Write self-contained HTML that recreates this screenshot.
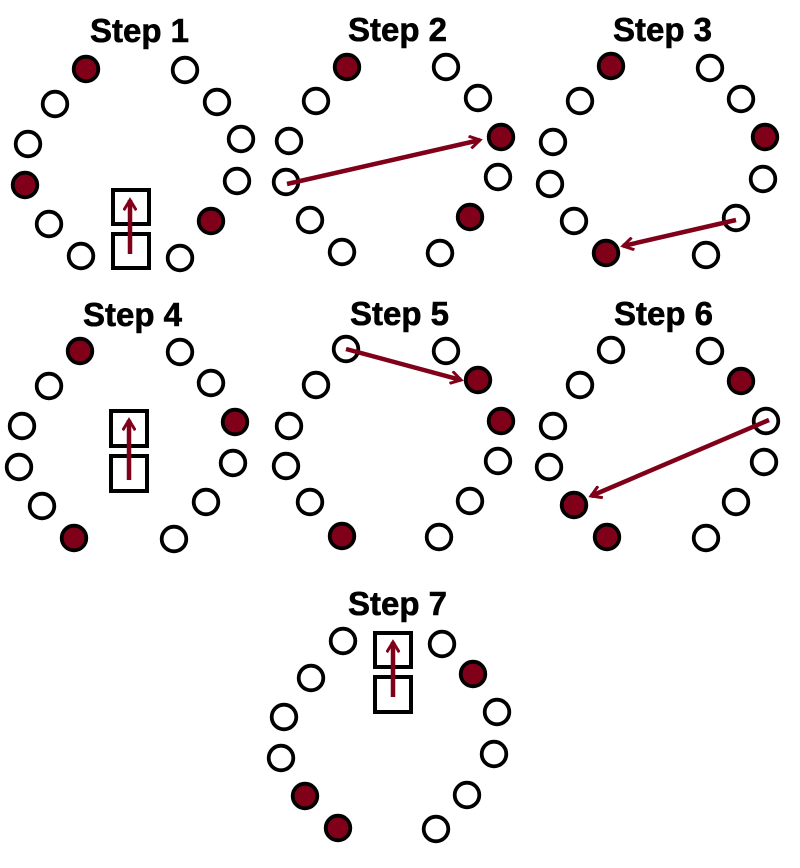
<!DOCTYPE html>
<html><head><meta charset="utf-8"><style>html,body{margin:0;padding:0;background:#fff}svg{display:block}</style></head>
<body>
<svg width="800" height="868" xmlns="http://www.w3.org/2000/svg">
<defs>
<marker id="a" viewBox="0 0 14 14" refX="11" refY="7" markerWidth="14" markerHeight="14" markerUnits="userSpaceOnUse" orient="auto">
<path d="M2,1.5 L11,7 L2,12.5" fill="none" stroke="#80001a" stroke-width="3" stroke-linecap="square"/>
</marker>
<style>
.o{fill:#fff;stroke:#000;stroke-width:3.8}
.f{fill:#80001a;stroke:#000;stroke-width:3.8}
.b{fill:none;stroke:#000;stroke-width:4}
.l{stroke:#80001a;stroke-width:4.5;fill:none;marker-end:url(#a)}
text{font-family:"Liberation Sans Narrow","Liberation Sans",sans-serif;font-weight:bold;font-size:33px;fill:#000;stroke:#000;stroke-width:0.6}
</style>
</defs>
<g>
<text x="90" y="42" textLength="99" lengthAdjust="spacingAndGlyphs">Step 1</text>
<text x="348" y="41" textLength="99" lengthAdjust="spacingAndGlyphs">Step 2</text>
<text x="613" y="41" textLength="99" lengthAdjust="spacingAndGlyphs">Step 3</text>
<text x="83" y="326" textLength="99" lengthAdjust="spacingAndGlyphs">Step 4</text>
<text x="350" y="325" textLength="99" lengthAdjust="spacingAndGlyphs">Step 5</text>
<text x="614" y="325" textLength="99" lengthAdjust="spacingAndGlyphs">Step 6</text>
<text x="348" y="615" textLength="99" lengthAdjust="spacingAndGlyphs">Step 7</text>
</g>
<!-- Step1 -->
<circle class="f" cx="86" cy="69" r="12.3"/><circle class="o" cx="185" cy="70" r="12.3"/>
<circle class="o" cx="55" cy="104" r="12.3"/><circle class="o" cx="217" cy="102" r="12.3"/>
<circle class="o" cx="28" cy="144" r="12.3"/><circle class="o" cx="241" cy="139" r="12.3"/>
<circle class="f" cx="25" cy="185" r="12.3"/><circle class="o" cx="237" cy="181" r="12.3"/>
<circle class="o" cx="49" cy="224" r="12.3"/><circle class="f" cx="211" cy="221" r="12.3"/>
<circle class="o" cx="81" cy="256" r="12.3"/><circle class="o" cx="180" cy="258" r="12.3"/>
<rect class="b" x="113" y="190" width="36" height="34"/><rect class="b" x="113" y="234" width="36" height="34"/>
<line class="l" x1="130" y1="254" x2="130" y2="200"/>
<!-- Step2 -->
<circle class="f" cx="347" cy="67" r="12.3"/><circle class="o" cx="446" cy="67" r="12.3"/>
<circle class="o" cx="316" cy="101" r="12.3"/><circle class="o" cx="478" cy="98" r="12.3"/>
<circle class="o" cx="289" cy="141" r="12.3"/><circle class="f" cx="501" cy="137" r="12.3"/>
<circle class="o" cx="286" cy="182" r="12.3"/><circle class="o" cx="498" cy="177" r="12.3"/>
<circle class="o" cx="310" cy="220" r="12.3"/><circle class="f" cx="470" cy="217" r="12.3"/>
<circle class="o" cx="342" cy="252" r="12.3"/><circle class="o" cx="440" cy="253" r="12.3"/>
<line class="l" x1="287" y1="184" x2="480" y2="140"/>
<!-- Step3 -->
<circle class="f" cx="611" cy="66" r="12.3"/><circle class="o" cx="710" cy="68" r="12.3"/>
<circle class="o" cx="580" cy="101" r="12.3"/><circle class="o" cx="741" cy="99" r="12.3"/>
<circle class="o" cx="553" cy="142" r="12.3"/><circle class="f" cx="765" cy="137" r="12.3"/>
<circle class="o" cx="550" cy="184" r="12.3"/><circle class="o" cx="763" cy="179" r="12.3"/>
<circle class="o" cx="574" cy="221" r="12.3"/><circle class="o" cx="736" cy="218" r="12.3"/>
<circle class="f" cx="606" cy="253" r="12.3"/><circle class="o" cx="706" cy="255" r="12.3"/>
<line class="l" x1="736" y1="220" x2="623" y2="246"/>
<!-- Step4 -->
<circle class="f" cx="80" cy="351" r="12.3"/><circle class="o" cx="180" cy="352" r="12.3"/>
<circle class="o" cx="49" cy="386" r="12.3"/><circle class="o" cx="211" cy="383" r="12.3"/>
<circle class="o" cx="22" cy="426" r="12.3"/><circle class="f" cx="235" cy="422" r="12.3"/>
<circle class="o" cx="19" cy="467" r="12.3"/><circle class="o" cx="233" cy="463" r="12.3"/>
<circle class="o" cx="42" cy="506" r="12.3"/><circle class="o" cx="206" cy="502" r="12.3"/>
<circle class="f" cx="74" cy="538" r="12.3"/><circle class="o" cx="174" cy="539" r="12.3"/>
<rect class="b" x="111" y="411" width="36" height="35"/><rect class="b" x="111" y="456" width="36" height="35"/>
<line class="l" x1="129" y1="480" x2="129" y2="420"/>
<!-- Step5 -->
<circle class="o" cx="346" cy="349" r="12.3"/><circle class="o" cx="446" cy="351" r="12.3"/>
<circle class="o" cx="316" cy="385" r="12.3"/><circle class="f" cx="478" cy="380" r="12.3"/>
<circle class="o" cx="289" cy="426" r="12.3"/><circle class="f" cx="501" cy="421" r="12.3"/>
<circle class="o" cx="286" cy="466" r="12.3"/><circle class="o" cx="498" cy="461" r="12.3"/>
<circle class="o" cx="310" cy="502" r="12.3"/><circle class="o" cx="470" cy="501" r="12.3"/>
<circle class="f" cx="342" cy="536" r="12.3"/><circle class="o" cx="439" cy="537" r="12.3"/>
<line class="l" x1="346" y1="349" x2="461" y2="380"/>
<!-- Step6 -->
<circle class="o" cx="611" cy="350" r="12.3"/><circle class="o" cx="710" cy="351" r="12.3"/>
<circle class="o" cx="580" cy="385" r="12.3"/><circle class="f" cx="741" cy="381" r="12.3"/>
<circle class="o" cx="553" cy="426" r="12.3"/><circle class="o" cx="766" cy="421" r="12.3"/>
<circle class="o" cx="549" cy="467" r="12.3"/><circle class="o" cx="764" cy="462" r="12.3"/>
<circle class="f" cx="574" cy="505" r="12.3"/><circle class="o" cx="736" cy="502" r="12.3"/>
<circle class="f" cx="607" cy="537" r="12.3"/><circle class="o" cx="706" cy="538" r="12.3"/>
<line class="l" x1="769" y1="420" x2="591" y2="496"/>
<!-- Step7 -->
<circle class="o" cx="343" cy="641" r="12.3"/><circle class="o" cx="442" cy="644" r="12.3"/>
<circle class="o" cx="311" cy="678" r="12.3"/><circle class="f" cx="473" cy="674" r="12.3"/>
<circle class="o" cx="284" cy="717" r="12.3"/><circle class="o" cx="497" cy="712" r="12.3"/>
<circle class="o" cx="281" cy="758" r="12.3"/><circle class="o" cx="494" cy="754" r="12.3"/>
<circle class="f" cx="305" cy="796" r="12.3"/><circle class="o" cx="467" cy="795" r="12.3"/>
<circle class="f" cx="338" cy="828" r="12.3"/><circle class="o" cx="436" cy="829" r="12.3"/>
<rect class="b" x="375" y="633" width="36" height="34"/><rect class="b" x="375" y="677" width="36" height="35"/>
<line class="l" x1="393" y1="697" x2="393" y2="642"/>
</svg>
</body></html>
